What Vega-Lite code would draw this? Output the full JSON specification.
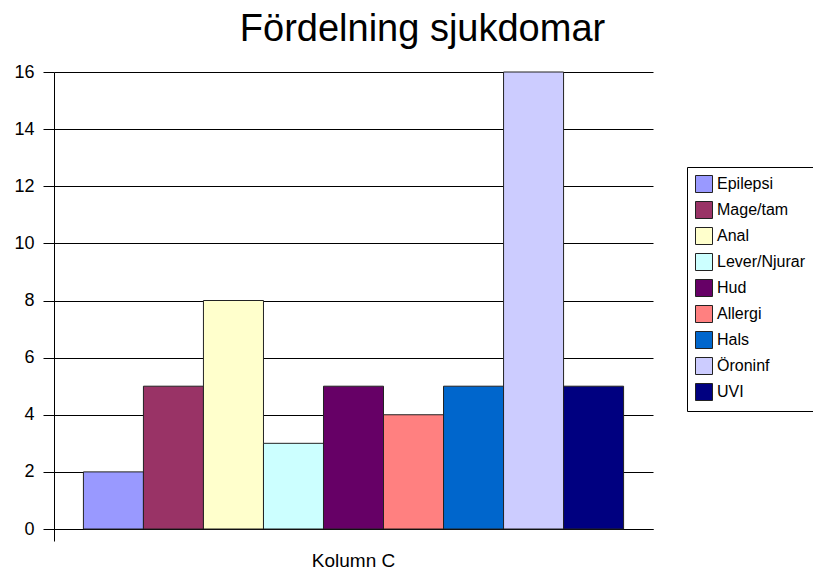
{
  "$schema": "https://vega.github.io/schema/vega-lite/v6.json",
  "autosize": {"type": "none"},
  "width": 599,
  "height": 457,
  "padding": {"left": 54, "top": 72, "right": 160, "bottom": 41},
  "background": "white",
  "title": {
    "text": "Fördelning sjukdomar",
    "fontSize": 38,
    "font": "Liberation Sans",
    "fontWeight": "normal",
    "color": "black",
    "anchor": "middle",
    "frame": "group",
    "dx": 69,
    "baseline": "alphabetic",
    "offset": -16
  },
  "data": {
    "values": [
      {"kolumn": "Kolumn C", "sjukdom": "Epilepsi", "antal": 2},
      {"kolumn": "Kolumn C", "sjukdom": "Mage/tam", "antal": 5},
      {"kolumn": "Kolumn C", "sjukdom": "Anal", "antal": 8},
      {"kolumn": "Kolumn C", "sjukdom": "Lever/Njurar", "antal": 3},
      {"kolumn": "Kolumn C", "sjukdom": "Hud", "antal": 5},
      {"kolumn": "Kolumn C", "sjukdom": "Allergi", "antal": 4},
      {"kolumn": "Kolumn C", "sjukdom": "Hals", "antal": 5},
      {"kolumn": "Kolumn C", "sjukdom": "Öroninf", "antal": 16},
      {"kolumn": "Kolumn C", "sjukdom": "UVI", "antal": 5}
    ]
  },
  "mark": {"type": "bar", "stroke": "#222222", "strokeWidth": 1},
  "encoding": {
    "x": {
      "field": "kolumn",
      "type": "nominal",
      "scale": {"paddingInner": 0, "paddingOuter": 0},
      "axis": {
        "title": null,
        "labelAngle": 0,
        "bandPosition": 0,
        "tickSize": 12,
        "tickColor": "black",
        "domainColor": "black",
        "labelFontSize": 19,
        "labelColor": "black",
        "labelPadding": 10
      }
    },
    "xOffset": {
      "field": "sjukdom",
      "type": "nominal",
      "sort": ["Epilepsi", "Mage/tam", "Anal", "Lever/Njurar", "Hud", "Allergi", "Hals", "Öroninf", "UVI"],
      "scale": {"paddingInner": 0, "paddingOuter": 0.49}
    },
    "y": {
      "field": "antal",
      "type": "quantitative",
      "scale": {"domain": [0, 16], "nice": false},
      "axis": {
        "title": null,
        "values": [0, 2, 4, 6, 8, 10, 12, 14, 16],
        "tickSize": 11,
        "tickColor": "black",
        "grid": true,
        "gridColor": "black",
        "gridOpacity": 1,
        "domainColor": "black",
        "labelFontSize": 18,
        "labelColor": "black",
        "labelPadding": 9
      }
    },
    "color": {
      "field": "sjukdom",
      "type": "nominal",
      "scale": {
        "domain": ["Epilepsi", "Mage/tam", "Anal", "Lever/Njurar", "Hud", "Allergi", "Hals", "Öroninf", "UVI"],
        "range": ["#9999FF", "#993366", "#FFFFCC", "#CCFFFF", "#660066", "#FF8080", "#0066CC", "#CCCCFF", "#000080"]
      },
      "legend": {
        "orient": "none",
        "legendX": 633,
        "legendY": 95,
        "title": null,
        "strokeColor": "black",
        "fillColor": "white",
        "padding": 8,
        "symbolType": "square",
        "symbolSize": 289,
        "symbolStrokeColor": "#222222",
        "symbolStrokeWidth": 1,
        "symbolOpacity": 1,
        "labelFontSize": 16,
        "labelColor": "black",
        "labelOffset": 4,
        "rowPadding": 4
      }
    }
  },
  "config": {
    "view": {"stroke": null},
    "font": "Liberation Sans",
    "axis": {"labelFont": "Liberation Sans", "domainWidth": 1, "tickWidth": 1, "gridWidth": 1}
  }
}
